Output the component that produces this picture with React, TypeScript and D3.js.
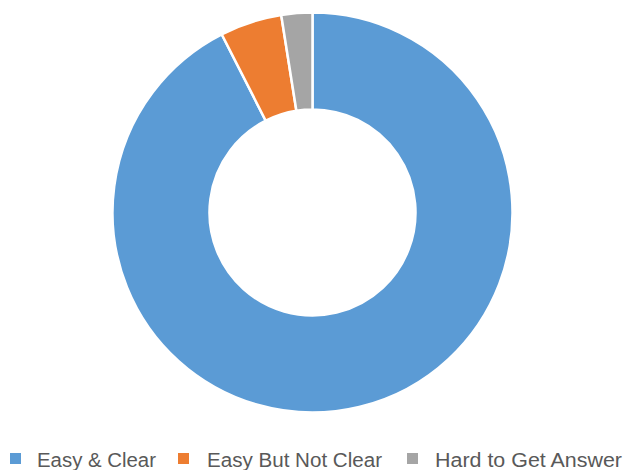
import React from "react";
import * as d3 from "d3";

const categories = ["Easy & Clear", "Easy But Not Clear", "Hard to Get Answer"];
const values = [92.5, 5, 2.5];
const colors = ["#5B9BD5", "#ED7D31", "#A5A5A5"];
const legendSquareX = [10, 178, 407];
const legendTextX = [37, 207, 435];
const legendTextW = [119, 175, 187];

export default function App() {
  const width = 626;
  const height = 470;
  const cx = 312.5;
  const cy = 212.5;
  const outerR = 200;
  const innerR = 103;

  const pie = d3.pie<number>().sort(null).value((d) => d).startAngle(0).endAngle(2 * Math.PI);
  const arcs = pie(values);
  const arc = d3.arc<d3.PieArcDatum<number>>().innerRadius(innerR).outerRadius(outerR);

  return (
    <svg
      width={width}
      height={height}
      style={{ position: "absolute", left: 0, top: 0, background: "#fff" }}
    >
      <g transform={`translate(${cx},${cy})`}>
        {arcs.map((a, i) => (
          <path key={i} d={arc(a) || ""} fill={colors[i]} stroke="#fff" strokeWidth={2.5} />
        ))}
      </g>
      <g>
        {categories.map((c, i) => (
          <g key={c}>
            <rect x={legendSquareX[i]} y={453} width={11} height={11} fill={colors[i]} />
            <text
              x={legendTextX[i]}
              y={467}
              fontFamily="'Liberation Sans', Arial, sans-serif"
              fontSize={20}
              fill="#595959"
              textLength={legendTextW[i]}
              lengthAdjust="spacingAndGlyphs"
            >
              {c}
            </text>
          </g>
        ))}
      </g>
    </svg>
  );
}
